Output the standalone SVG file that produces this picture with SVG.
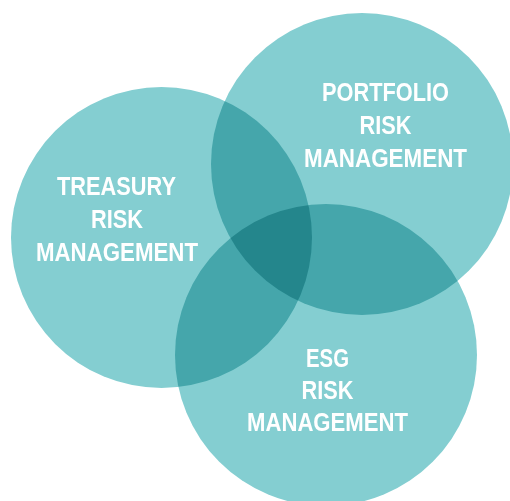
<svg xmlns="http://www.w3.org/2000/svg" width="510" height="501" viewBox="0 0 510 501">
<style>
.c{fill:#84CED1;mix-blend-mode:multiply}
.t{font-family:"Liberation Sans",Arial,sans-serif;font-weight:700;font-size:26px;fill:#FFFFFF;text-anchor:middle}
</style>
<rect x="0" y="0" width="510" height="501" fill="#FFFFFF"/>
<g id="connectors"></g>
<g id="treasury">
<circle class="c" cx="161.5" cy="237.5" r="150.5"/>
</g>
<g id="portfolio">
<circle class="c" cx="362" cy="164" r="151"/>
</g>
<g id="esg">
<circle class="c" cx="326" cy="355" r="151"/>
</g>
<g id="labels">
<text class="t" x="116.5" y="195" textLength="119" lengthAdjust="spacingAndGlyphs">TREASURY</text>
<text class="t" x="117" y="228" textLength="52" lengthAdjust="spacingAndGlyphs">RISK</text>
<text class="t" x="117" y="261" textLength="162" lengthAdjust="spacingAndGlyphs">MANAGEMENT</text>
<text class="t" x="385.5" y="101" textLength="127" lengthAdjust="spacingAndGlyphs">PORTFOLIO</text>
<text class="t" x="385.5" y="134" textLength="52" lengthAdjust="spacingAndGlyphs">RISK</text>
<text class="t" x="385.5" y="167" textLength="163" lengthAdjust="spacingAndGlyphs">MANAGEMENT</text>
<text class="t" x="327.5" y="367" textLength="43" lengthAdjust="spacingAndGlyphs">ESG</text>
<text class="t" x="327.5" y="399" textLength="52" lengthAdjust="spacingAndGlyphs">RISK</text>
<text class="t" x="327.5" y="431" textLength="161" lengthAdjust="spacingAndGlyphs">MANAGEMENT</text>
</g>
</svg>
